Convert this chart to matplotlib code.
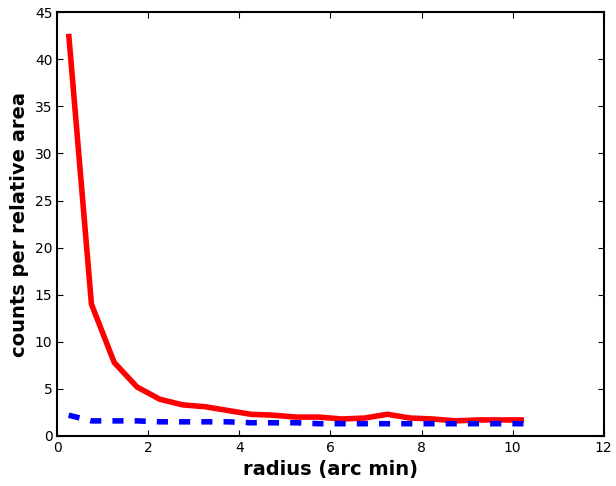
import numpy as np
from matplotlib import pyplot as plt

# radial bins (arc min)
radius = [0.25, 0.75, 1.25, 1.75, 2.25, 2.75, 3.25, 3.75, 4.25, 4.75, 5.25,
          5.75, 6.25, 6.75, 7.25, 7.75, 8.25, 8.75, 9.25, 9.75, 10.25]

counts_red = [42.7, 14.0, 7.8, 5.2, 3.9, 3.3, 3.1, 2.7, 2.3, 2.2, 2.0,
              2.0, 1.8, 1.9, 2.3, 1.9, 1.8, 1.6, 1.7, 1.7, 1.7]

counts_blue = [2.2, 1.6, 1.6, 1.6, 1.5, 1.5, 1.5, 1.5, 1.4, 1.4, 1.4,
               1.3, 1.3, 1.3, 1.3, 1.3, 1.3, 1.3, 1.3, 1.3, 1.3]

fig = plt.figure(figsize=(6.16, 4.86), dpi=100)
ax = fig.add_axes([0.093, 0.103, 0.887, 0.872])

ax.plot(radius, counts_red, color='red', linewidth=4, solid_capstyle='butt')
ax.plot(radius, counts_blue, color='blue', linewidth=4, linestyle=(0, (2, 2)))

ax.set_xlim(0, 12)
ax.set_ylim(0, 45)
ax.set_xticks(np.arange(0, 13, 2))
ax.set_yticks(np.arange(0, 46, 5))

ax.tick_params(direction='in', length=4, top=True, right=True, labelsize=10)
for spine in ax.spines.values():
    spine.set_linewidth(1.5)

ax.set_xlabel('radius (arc min)', fontsize=14, fontweight='bold')
ax.set_ylabel('counts per relative area', fontsize=14, fontweight='bold')

fig.savefig('out.png', dpi=100)
